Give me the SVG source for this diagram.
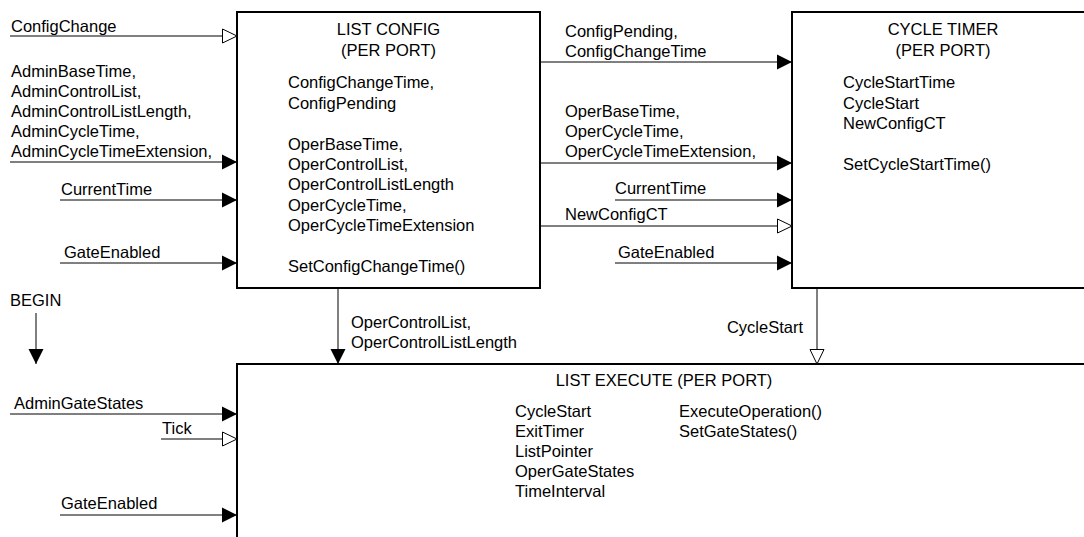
<svg xmlns="http://www.w3.org/2000/svg" width="1084" height="537" viewBox="0 0 1084 537">
<style>
text{font-family:"Liberation Sans",Arial,sans-serif;font-size:16.5px;fill:#000}
.mid{text-anchor:middle}
.end{text-anchor:end}
.box{fill:#fff;stroke:#000;stroke-width:2}
.edge{fill:none;stroke:#000;stroke-width:2}
.c{fill:none;stroke:#000;stroke-width:1}
.cf{fill:none;stroke:#000;stroke-width:1;marker-end:url(#filled)}
.co{fill:none;stroke:#000;stroke-width:1;marker-end:url(#open)}
</style>
<defs>
<marker id="filled" markerUnits="userSpaceOnUse" markerWidth="16" markerHeight="16" refX="15" refY="7.5" orient="auto" overflow="visible">
<path d="M0,0 L15,7.5 L0,15 Z" fill="#000"/>
</marker>
<marker id="open" markerUnits="userSpaceOnUse" markerWidth="16" markerHeight="16" refX="15" refY="7.5" orient="auto" overflow="visible">
<path d="M0.5,0.5 L15,7.5 L0.5,14.5 Z" fill="#fff" stroke="#000" stroke-width="1"/>
</marker>
</defs>
<rect width="1084" height="537" fill="#fff"/>

<g id="list-config">
<rect class="box" x="237" y="12" width="303" height="276"/>
<text class="mid" x="388.5" y="35.3">LIST CONFIG</text>
<text class="mid" x="388.5" y="55.7">(PER PORT)</text>
<text x="288" y="88.3">ConfigChangeTime,</text>
<text x="288" y="108.7">ConfigPending</text>
<text x="288" y="149.5">OperBaseTime,</text>
<text x="288" y="169.9">OperControlList,</text>
<text x="288" y="190.3">OperControlListLength</text>
<text x="288" y="210.7">OperCycleTime,</text>
<text x="288" y="231.1">OperCycleTimeExtension</text>
<text x="288" y="271.9">SetConfigChangeTime()</text>
</g>

<g id="cycle-timer">
<rect x="792" y="12" width="300" height="276" fill="#fff"/>
<path class="edge" d="M1090,12 H792 V288 H1090"/>
<text class="mid" x="943" y="35.3">CYCLE TIMER</text>
<text class="mid" x="943" y="55.7">(PER PORT)</text>
<text x="843" y="88.3">CycleStartTime</text>
<text x="843" y="108.7">CycleStart</text>
<text x="843" y="129.1">NewConfigCT</text>
<text x="843" y="169.9">SetCycleStartTime()</text>
</g>

<g id="list-execute">
<rect x="237" y="364" width="860" height="180" fill="#fff"/>
<path class="edge" d="M1090,364 H237 V545"/>
<text class="mid" x="664" y="386">LIST EXECUTE (PER PORT)</text>
<text x="515" y="416.5">CycleStart</text>
<text x="515" y="436.5">ExitTimer</text>
<text x="515" y="456.5">ListPointer</text>
<text x="515" y="476.5">OperGateStates</text>
<text x="515" y="496.5">TimeInterval</text>
<text x="679" y="416.5">ExecuteOperation()</text>
<text x="679" y="436.5">SetGateStates()</text>
</g>

<g id="connectors">
<!-- inputs to LIST CONFIG -->
<line class="co" x1="10" y1="36" x2="237" y2="36"/>
<text x="11" y="32">ConfigChange</text>
<line class="cf" x1="10" y1="162" x2="237" y2="162"/>
<text x="11" y="77">AdminBaseTime,</text>
<text x="11" y="97">AdminControlList,</text>
<text x="11" y="117">AdminControlListLength,</text>
<text x="11" y="137">AdminCycleTime,</text>
<text x="11" y="157">AdminCycleTimeExtension,</text>
<line class="cf" x1="60" y1="200" x2="237" y2="200"/>
<text x="61" y="195">CurrentTime</text>
<line class="cf" x1="60" y1="263" x2="237" y2="263"/>
<text x="64" y="258">GateEnabled</text>

<!-- BEGIN -->
<text x="10" y="306">BEGIN</text>
<line class="cf" x1="36" y1="313" x2="36" y2="364"/>

<!-- LIST CONFIG to CYCLE TIMER -->
<line class="cf" x1="540" y1="62" x2="792" y2="62"/>
<text x="565" y="37">ConfigPending,</text>
<text x="565" y="57">ConfigChangeTime</text>
<line class="cf" x1="540" y1="163" x2="792" y2="163"/>
<text x="565" y="117">OperBaseTime,</text>
<text x="565" y="137">OperCycleTime,</text>
<text x="565" y="157">OperCycleTimeExtension,</text>
<line class="cf" x1="615" y1="200" x2="792" y2="200"/>
<text x="615" y="194">CurrentTime</text>
<line class="co" x1="540" y1="226" x2="792" y2="226"/>
<text x="565" y="220">NewConfigCT</text>
<line class="cf" x1="615" y1="263" x2="792" y2="263"/>
<text x="618" y="258">GateEnabled</text>

<!-- down to LIST EXECUTE -->
<line class="cf" x1="338" y1="288" x2="338" y2="364"/>
<text x="351" y="328">OperControlList,</text>
<text x="351" y="348">OperControlListLength</text>
<line class="co" x1="817" y1="288" x2="817" y2="364"/>
<text class="end" x="803" y="333">CycleStart</text>

<!-- inputs to LIST EXECUTE -->
<line class="cf" x1="10" y1="414" x2="237" y2="414"/>
<text x="14" y="409">AdminGateStates</text>
<line class="co" x1="161" y1="439" x2="237" y2="439"/>
<text x="162" y="434">Tick</text>
<line class="cf" x1="60" y1="515" x2="237" y2="515"/>
<text x="61" y="509">GateEnabled</text>
</g>
</svg>
